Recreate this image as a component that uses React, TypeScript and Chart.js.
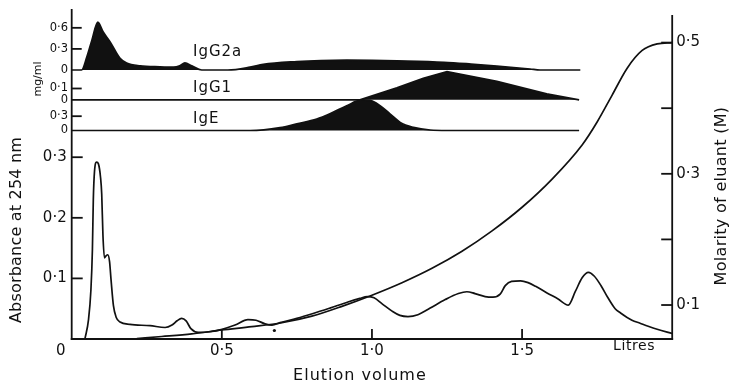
import React, { useEffect, useRef } from 'react';
import { Chart, registerables } from 'chart.js';

Chart.register(...registerables);

const INK = '#111';
const FAMILY = '"DejaVu Sans", "Liberation Sans", sans-serif';

// ---- axes ----
const volumeMin = 0;
const volumeMax = 2.0;
const volumeTicks = [0.5, 1.0, 1.5];
const volumeTickLabels = ['0·5', '1·0', '1·5'];

const absTicks = [0.1, 0.2, 0.3];
const absTickLabels = ['0·1', '0·2', '0·3'];

const molTicks = [0.1, 0.2, 0.3, 0.4, 0.5];
const molTickLabels = ['0·1', '', '0·3', '', '0·5'];
const molAxisTop = 0.542;

const igg2aTicks = [0, 0.3, 0.6];
const igg2aTickLabels = ['0', '0·3', '0·6'];
const igg1Ticks = [0, 0.1];
const igg1TickLabels = ['0', '0·1'];
const igeTicks = [0, 0.3];
const igeTickLabels = ['0', '0·3'];

// ---- absorbance at 254 nm (litres, absorbance) ----
const absVolume = [
  0.044, 0.056, 0.064, 0.069, 0.072, 0.076, 0.083, 0.089, 0.096, 0.1, 0.104, 0.109, 0.114, 0.12,
  0.126, 0.131, 0.139, 0.148, 0.161, 0.194, 0.261, 0.311, 0.334, 0.351, 0.366, 0.381, 0.397, 0.421,
  0.461, 0.501, 0.544, 0.587, 0.614, 0.644, 0.667, 0.694, 0.75, 0.804, 0.86, 0.92, 0.96, 0.984,
  1.007, 1.034, 1.067, 1.093, 1.12, 1.153, 1.194, 1.244, 1.288, 1.316, 1.343, 1.377, 1.403, 1.427,
  1.444, 1.465, 1.495, 1.52, 1.545, 1.583, 1.62, 1.654, 1.677, 1.7, 1.721, 1.74, 1.763, 1.786, 1.81,
  1.828, 1.866, 1.893, 1.92, 1.95, 2.0,
];
const absValue = [
  0, 0.032, 0.081, 0.148, 0.23, 0.277, 0.292, 0.289, 0.267, 0.239, 0.172, 0.134, 0.137, 0.139,
  0.128, 0.098, 0.055, 0.036, 0.028, 0.024, 0.022, 0.019, 0.023, 0.03, 0.034, 0.03, 0.017, 0.011,
  0.012, 0.016, 0.023, 0.032, 0.031, 0.025, 0.023, 0.027, 0.034, 0.042, 0.051, 0.061, 0.067, 0.07,
  0.068, 0.058, 0.046, 0.039, 0.037, 0.04, 0.051, 0.065, 0.075, 0.078, 0.075, 0.07, 0.069, 0.074,
  0.088, 0.095, 0.096, 0.093, 0.087, 0.076, 0.066, 0.056, 0.078, 0.101, 0.11, 0.104, 0.088, 0.068, 0.05,
  0.043, 0.031, 0.026, 0.021, 0.016, 0.009,
];

// ---- molarity of eluant (litres, M) ----
const molVolume = [
  0.217, 0.3, 0.4, 0.5, 0.6, 0.7, 0.8, 0.9, 1.0, 1.1, 1.2, 1.3, 1.4, 1.5, 1.6, 1.7, 1.75, 1.8, 1.85,
  1.9, 1.95, 2.0,
];
const molValue = [
  0.049, 0.052, 0.056, 0.062, 0.067, 0.073, 0.083, 0.098, 0.115, 0.134, 0.156, 0.182, 0.213, 0.249,
  0.292, 0.344, 0.379, 0.42, 0.461, 0.488, 0.498, 0.5,
];

// ---- immunoglobulin profiles (litres, mg/ml) ----
const igg2aVolume = [
  0, 0.033, 0.05, 0.067, 0.087, 0.105, 0.128, 0.161, 0.183, 0.228, 0.294, 0.339, 0.36, 0.377, 0.4,
  0.433, 0.52, 0.594, 0.638, 0.75, 0.83, 0.916, 1.0, 1.083, 1.24, 1.33, 1.416, 1.527, 1.56, 1.694,
];
const igg2aConc = [
  0, 0, 0.18, 0.42, 0.68, 0.54, 0.4, 0.166, 0.1, 0.06, 0.045, 0.04, 0.06, 0.1, 0.06,
  0, 0, 0.04, 0.08, 0.12, 0.135, 0.14, 0.137, 0.13, 0.11, 0.085, 0.057, 0.014, 0, 0,
];

const igg1Volume = [0, 0.96, 1.083, 1.171, 1.25, 1.416, 1.582, 1.69];
const igg1Conc = [0, 0, 0.106, 0.19, 0.25, 0.164, 0.052, 0];

const igeVolume = [
  0, 0.594, 0.694, 0.75, 0.816, 0.86, 0.916, 0.966, 0.994, 1.027, 1.06, 1.094, 1.138, 1.194, 1.25,
  1.69,
];
const igeConc = [
  0, 0, 0.06, 0.14, 0.24, 0.35, 0.52, 0.64, 0.63, 0.52, 0.35, 0.17, 0.066, 0.01, 0, 0,
];

// stray mark on the trace
const dotVolume = [0.675];
const dotValue = [0.014];

const pts = (xs: number[], ys: number[]) => xs.map((x, i) => ({ x, y: ys[i] }));

function drawText(
  ctx: CanvasRenderingContext2D,
  s: string,
  x: number,
  y: number,
  align: CanvasTextAlign,
  size: number,
  spacing = 0,
  rotate = false
) {
  ctx.save();
  ctx.font = `${size}px ${FAMILY}`;
  (ctx as any).letterSpacing = `${spacing}px`;
  ctx.textAlign = align;
  ctx.textBaseline = 'middle';
  ctx.translate(x, y);
  if (rotate) ctx.rotate(-Math.PI / 2);
  ctx.fillText(s, 0, 0);
  ctx.restore();
}

const figurePlugin = {
  id: 'figureAxes',
  afterDatasetsDraw(chart: any) {
    const { ctx, scales, chartArea } = chart;
    const xs = scales.x;
    const ya = scales.yAbs;
    const ym = scales.yMol;
    const x0 = xs.getPixelForValue(volumeMin);
    const x2 = xs.getPixelForValue(volumeMax);
    const yb = ya.getPixelForValue(0);
    ctx.save();
    ctx.strokeStyle = INK;
    ctx.fillStyle = INK;
    ctx.lineWidth = 1.8;
    const seg = (a: number, b: number, c: number, d: number) => {
      ctx.beginPath();
      ctx.moveTo(a, b);
      ctx.lineTo(c, d);
      ctx.stroke();
    };
    // axis lines
    seg(x0, chartArea.top, x0, yb + 0.9);
    seg(x0 - 0.9, yb, x2 + 0.9, yb);
    seg(x2, ym.getPixelForValue(molAxisTop), x2, yb + 0.9);

    // left absorbance ticks
    absTicks.forEach((v, i) => {
      const y = ya.getPixelForValue(v);
      seg(x0, y, x0 + 11, y);
      drawText(ctx, absTickLabels[i], x0 - 5, y, 'right', 15);
    });
    // right molarity ticks
    molTicks.forEach((v, i) => {
      const y = ym.getPixelForValue(v);
      seg(x2 - 11, y, x2, y);
      if (molTickLabels[i]) drawText(ctx, molTickLabels[i], x2 + 4, y, 'left', 15);
    });
    // volume ticks
    volumeTicks.forEach((v, i) => {
      const x = xs.getPixelForValue(v);
      seg(x, yb, x, yb - 10);
      drawText(ctx, volumeTickLabels[i], x, yb + 12, 'center', 15);
    });
    drawText(ctx, '0', x0 - 11, yb + 12, 'center', 15);
    drawText(ctx, 'Litres', x2 - 17, yb + 7, 'right', 14, 0.6);
    drawText(ctx, 'Elution volume', xs.getPixelForValue(0.96), yb + 37, 'center', 16, 1);
    drawText(ctx, 'Absorbance at 254 nm', 17, 230, 'center', 16, 0.2, true);
    drawText(ctx, 'Molarity of eluant (M)', 722, 196, 'center', 16, 0.3, true);

    // inset panels
    const insets = [
      { scale: scales.yG2a, ticks: igg2aTicks, labels: igg2aTickLabels, name: 'IgG2a', lift: 18.3 },
      { scale: scales.yG1, ticks: igg1Ticks, labels: igg1TickLabels, name: 'IgG1', lift: 12 },
      { scale: scales.yE, ticks: igeTicks, labels: igeTickLabels, name: 'IgE', lift: 11.5 },
    ];
    insets.forEach((p) => {
      p.ticks.forEach((v, i) => {
        const y = p.scale.getPixelForValue(v);
        if (v !== 0) seg(x0, y, x0 + 10, y);
        drawText(ctx, p.labels[i], x0 - 3.7, y, 'right', 11.5);
      });
      const yBase = p.scale.getPixelForValue(0);
      drawText(ctx, p.name, xs.getPixelForValue(0.404), yBase - p.lift, 'left', 15, 1);
    });
    drawText(ctx, 'mg/ml', 38, 79, 'center', 11, 0, true);
    ctx.restore();
  },
};

export default function App() {
  const ref = useRef<HTMLCanvasElement>(null);
  useEffect(() => {
    document.body.style.margin = '0';
    if (!ref.current) return;
    const line = {
      borderColor: INK,
      backgroundColor: INK,
      pointRadius: 0,
      borderWidth: 1.7,
    };
    const chart = new Chart(ref.current, {
      type: 'line',
      data: {
        datasets: [
          {
            ...line,
            label: 'IgG2a',
            data: pts(igg2aVolume, igg2aConc),
            yAxisID: 'yG2a',
            fill: 'origin',
            cubicInterpolationMode: 'monotone',
          },
          {
            ...line,
            label: 'IgG1',
            data: pts(igg1Volume, igg1Conc),
            yAxisID: 'yG1',
            fill: 'origin',
            tension: 0,
          },
          {
            ...line,
            label: 'IgE',
            data: pts(igeVolume, igeConc),
            yAxisID: 'yE',
            fill: 'origin',
            cubicInterpolationMode: 'monotone',
          },
          {
            ...line,
            label: 'Absorbance at 254 nm',
            data: pts(absVolume, absValue),
            yAxisID: 'yAbs',
            fill: false,
            cubicInterpolationMode: 'monotone',
          },
          {
            ...line,
            label: 'Molarity of eluant',
            data: pts(molVolume, molValue),
            yAxisID: 'yMol',
            fill: false,
            cubicInterpolationMode: 'monotone',
          },
          {
            label: 'mark',
            data: pts(dotVolume, dotValue),
            yAxisID: 'yAbs',
            showLine: false,
            pointRadius: 1.6,
            pointBackgroundColor: INK,
            pointBorderWidth: 0,
            borderColor: INK,
          },
        ],
      } as any,
      options: {
        responsive: false,
        animation: false,
        events: [],
        layout: { padding: { left: 71.7, right: 56.8, top: 9, bottom: 44 } },
        plugins: {
          legend: { display: false },
          tooltip: { enabled: false },
        },
        scales: {
          x: { type: 'linear', min: volumeMin, max: volumeMax, display: false },
          yAbs: { type: 'linear', min: 0, max: 0.5446, display: false },
          yMol: { type: 'linear', min: 0.0482, max: 0.5512, display: false },
          yG2a: { type: 'linear', min: -3.8265, max: 0.8677, display: false },
          yG1: { type: 'linear', min: -2.1168, max: 0.8035, display: false },
          yE: { type: 'linear', min: -4.3711, max: 2.5472, display: false },
        },
      } as any,
      plugins: [figurePlugin],
    });
    return () => chart.destroy();
  }, []);
  return <canvas ref={ref} width={729} height={383} style={{ display: 'block' }} />;
}
